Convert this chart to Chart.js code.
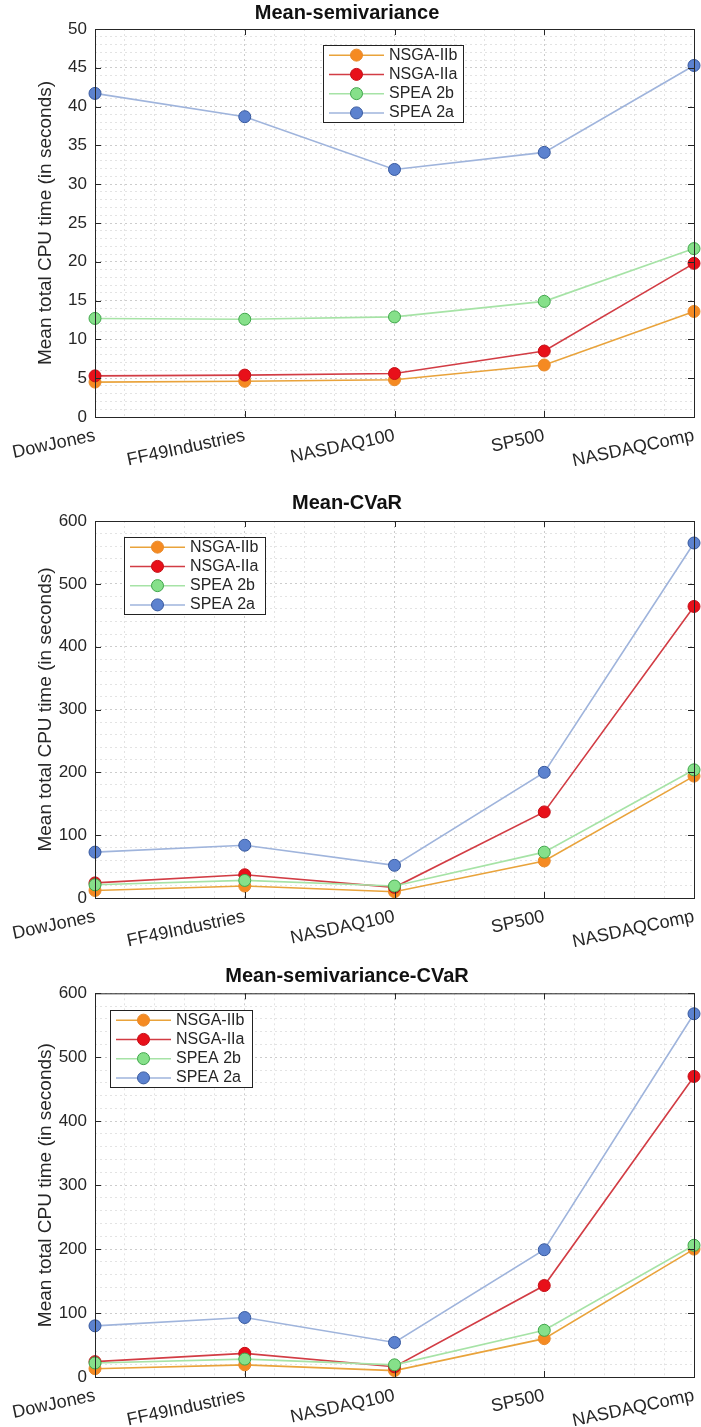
<!DOCTYPE html>
<html>
<head>
<meta charset="utf-8">
<script src="https://cdn.jsdelivr.net/npm/chart.js@4.4.0/dist/chart.umd.min.js"></script>
<style>
    html, body { margin: 0; padding: 0; background: #fff; }
    .box { position: relative; width: 701px; }
</style>
</head>
<body>
<div class="box" style="height:476px"><canvas id="c1"></canvas></div>
<div class="box" style="height:476px"><canvas id="c2"></canvas></div>
<div class="box" style="height:475px"><canvas id="c3"></canvas></div>
<script>
'use strict';

const categories = ['DowJones', 'FF49Industries', 'NASDAQ100', 'SP500', 'NASDAQComp'];
const seriesNames = ['NSGA-IIb', 'NSGA-IIa', 'SPEA 2b', 'SPEA 2a'];

// Mean-semivariance
const msNsga2b = [4.5, 4.6, 4.8, 6.7, 13.6];
const msNsga2a = [5.3, 5.4, 5.6, 8.5, 19.8];
const msSpea2b = [12.7, 12.6, 12.9, 14.9, 21.7];
const msSpea2a = [41.7, 38.7, 31.9, 34.1, 45.3];

// Mean-CVaR
const mcNsga2b = [12, 19, 10, 59, 194];
const mcNsga2a = [24, 37, 17, 137, 464];
const mcSpea2b = [21, 28, 19, 73, 204];
const mcSpea2a = [73, 84, 52, 200, 565];

// Mean-semivariance-CVaR
const mscNsga2b = [13, 19, 10, 60, 200];
const mscNsga2a = [24, 37, 16, 143, 470];
const mscSpea2b = [22, 28, 19, 73, 206];
const mscSpea2a = [80, 93, 54, 199, 568];

const FONT = "'Liberation Sans', Arial, Helvetica, sans-serif";
const TEXT = '#262626';

const styles = [
    { line: '#E9A33B', fill: '#F58A22', edge: '#E88A2A' },
    { line: '#D23C44', fill: '#E8101A', edge: '#C40F18' },
    { line: '#A6E3A6', fill: '#86E08A', edge: '#3FA64A' },
    { line: '#9FB4DC', fill: '#5C82CF', edge: '#36589E' }
];

// axes box with inward ticks, like matlab "box on"
const frameBox = {
    id: 'frameBox',
    afterDatasetsDraw(chart, args, o) {
        const { ctx, chartArea: a, scales } = chart;
        ctx.save();
        ctx.strokeStyle = TEXT;
        ctx.lineWidth = 1;
        ctx.strokeRect(a.left + 0.5, a.top + 0.5, a.right - a.left, a.bottom - a.top);
        ctx.beginPath();
        scales.x.ticks.forEach((t) => {
            if (Math.abs(t.value - Math.round(t.value)) > 1e-6) return;
            const px = Math.round(scales.x.getPixelForValue(t.value)) + 0.5;
            ctx.moveTo(px, a.bottom); ctx.lineTo(px, a.bottom - 6);
            ctx.moveTo(px, a.top); ctx.lineTo(px, a.top + 6);
        });
        scales.y.ticks.forEach((t) => {
            if (Math.abs(t.value % o.major) > 1e-6) return;
            const py = Math.round(scales.y.getPixelForValue(t.value)) + 0.5;
            ctx.moveTo(a.left, py); ctx.lineTo(a.left + 6, py);
            ctx.moveTo(a.right, py); ctx.lineTo(a.right - 6, py);
        });
        ctx.stroke();
        ctx.restore();
    }
};

// boxed legend sitting inside the plot area
const boxLegend = {
    id: 'boxLegend',
    afterDraw(chart, args, o) {
        const ctx = chart.ctx;
        ctx.save();
        ctx.fillStyle = '#fff';
        ctx.fillRect(o.x, o.y, o.w, o.h);
        ctx.strokeStyle = '#222';
        ctx.lineWidth = 1;
        ctx.strokeRect(o.x + 0.5, o.y + 0.5, o.w, o.h);
        ctx.font = `${o.size}px ${FONT}`;
        ctx.textBaseline = 'middle';
        ctx.textAlign = 'left';
        const rowH = o.h / chart.data.datasets.length;
        chart.data.datasets.forEach((ds, i) => {
            const cy = o.y + rowH * (i + 0.5) + 0.5;
            const x0 = o.x + 6;
            const x1 = x0 + o.lineLen;
            ctx.strokeStyle = ds.borderColor;
            ctx.lineWidth = 1.5;
            ctx.beginPath();
            ctx.moveTo(x0, cy); ctx.lineTo(x1, cy);
            ctx.stroke();
            ctx.beginPath();
            ctx.arc((x0 + x1) / 2, cy, 6, 0, Math.PI * 2);
            ctx.fillStyle = ds.pointBackgroundColor;
            ctx.fill();
            ctx.lineWidth = 1;
            ctx.strokeStyle = ds.pointBorderColor;
            ctx.stroke();
            ctx.fillStyle = TEXT;
            ctx.fillText(seriesNames[i], x1 + 5, cy);
        });
        ctx.restore();
    }
};

function makeDatasets (rows) {
    return rows.map((values, i) => ({
        label: seriesNames[i],
        data: values.map((v, j) => ({ x: j, y: v })),
        borderColor: styles[i].line,
        borderWidth: 1.6,
        pointBackgroundColor: styles[i].fill,
        pointBorderColor: styles[i].edge,
        pointBorderWidth: 1,
        pointRadius: 6,
        tension: 0,
        clip: false,
        order: 4 - i
    }));
}

function makeChart (id, title, rows, y, lay) {
    return new Chart(document.getElementById(id), {
        type: 'line',
        data: { datasets: makeDatasets(rows) },
        options: {
            responsive: true,
            maintainAspectRatio: false,
            animation: false,
            events: [],
            layout: { padding: { left: 0, right: 7, top: 0, bottom: 0 } },
            plugins: {
                legend: { display: false },
                tooltip: { enabled: false },
                title: {
                    display: true,
                    text: title,
                    color: '#111',
                    font: { family: FONT, size: 20, weight: 'bold', lineHeight: 1 },
                    padding: { top: lay.titleTop, bottom: lay.titleBottom }
                },
                frameBox: { major: y.major },
                boxLegend: lay.legend
            },
            scales: {
                x: {
                    type: 'linear',
                    min: 0,
                    max: categories.length - 1,
                    afterFit: (scale) => {
                        scale.height = lay.xHeight;
                        scale.paddingLeft = 0;
                        scale.paddingRight = 0;
                    },
                    ticks: {
                        stepSize: 0.2,
                        autoSkip: false,
                        minRotation: 12,
                        maxRotation: 12,
                        padding: 8,
                        color: TEXT,
                        font: { family: FONT, size: 18 },
                        callback: (v) => {
                            const k = Math.round(v);
                            return Math.abs(v - k) < 1e-6 ? categories[k] : '';
                        }
                    },
                    grid: {
                        drawTicks: false,
                        color: (c) => Math.abs(c.tick.value - Math.round(c.tick.value)) < 1e-6 ? 'rgba(0,0,0,0.2)' : 'rgba(0,0,0,0.11)'
                    },
                    border: { display: false, dash: [2, 3] }
                },
                y: {
                    type: 'linear',
                    min: 0,
                    max: y.max,
                    afterFit: (scale) => { scale.width = 95; },
                    title: {
                        display: true,
                        text: 'Mean total CPU time (in seconds)',
                        color: TEXT,
                        font: { family: FONT, size: 19, lineHeight: 1.2 },
                        padding: { top: 34, bottom: 0 }
                    },
                    ticks: {
                        stepSize: y.minor,
                        autoSkip: false,
                        padding: 8,
                        color: TEXT,
                        font: { family: FONT, size: 17 },
                        callback: (v) => (Math.abs(v % y.major) < 1e-6 ? String(v) : '')
                    },
                    grid: {
                        drawTicks: false,
                        color: (c) => Math.abs(c.tick.value % y.major) < 1e-6 ? 'rgba(0,0,0,0.2)' : 'rgba(0,0,0,0.11)'
                    },
                    border: { display: false, dash: [2, 3] }
                }
            }
        },
        plugins: [frameBox, boxLegend]
    });
}

makeChart('c1', 'Mean-semivariance',
    [msNsga2b, msNsga2a, msSpea2b, msSpea2a],
    { max: 50, major: 5, minor: 1 },
    { titleTop: 3, titleBottom: 6, xHeight: 59,
      legend: { x: 323, y: 45, w: 140, h: 77, size: 16, lineLen: 55 } });

makeChart('c2', 'Mean-CVaR',
    [mcNsga2b, mcNsga2a, mcSpea2b, mcSpea2a],
    { max: 600, major: 100, minor: 20 },
    { titleTop: 17.7, titleBottom: 7.3, xHeight: 54,
      legend: { x: 124, y: 61, w: 141, h: 77, size: 16, lineLen: 55 } });

makeChart('c3', 'Mean-semivariance-CVaR',
    [mscNsga2b, mscNsga2a, mscSpea2b, mscSpea2a],
    { max: 600, major: 100, minor: 20 },
    { titleTop: 14.7, titleBottom: 6.6, xHeight: 50,
      legend: { x: 110, y: 58, w: 142, h: 77, size: 16, lineLen: 55 } });
</script>
</body>
</html>
